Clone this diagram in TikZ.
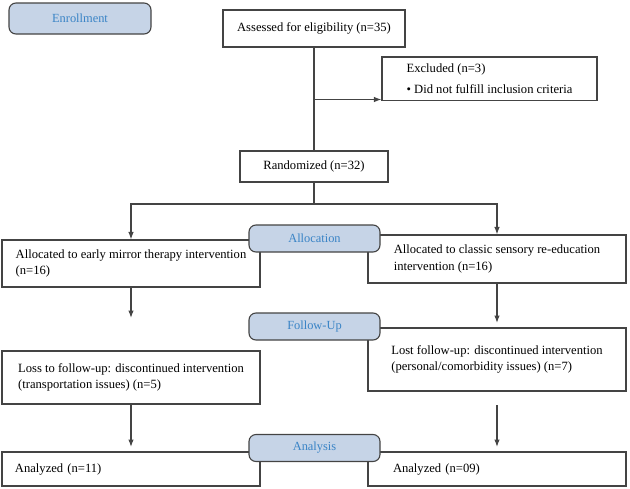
\documentclass[tikz,border=0pt]{standalone}
\usepackage{fontspec}
\setmainfont{Liberation Serif}
\usepackage{xcolor}
\usepackage{tikz}
\usetikzlibrary{arrows.meta, calc}

\definecolor{tabfill}{HTML}{C6D4E7}
\definecolor{tabtext}{HTML}{3A84C6}
\definecolor{linegray}{HTML}{444444}

\begin{document}
\begin{tikzpicture}[x=1pt, y=-1pt,
    box/.style={rectangle, draw=linegray, fill=white, line width=1.1pt, align=left, inner sep=0pt, font=\fontsize{12.6}{16.5}\selectfont},
    sidebox/.style={box, minimum width=258pt},
    phase/.style={rectangle, draw=linegray, fill=tabfill, rounded corners=7pt, line width=1.1pt, minimum width=131pt, minimum height=27pt, inner sep=0pt, text=tabtext, font=\fontsize{12.4}{14}\selectfont},
    arr/.style={-{Latex[length=7.5pt, width=5.5pt]}, linegray, line width=1.1pt},
    link/.style={linegray, line width=1.1pt},
]
\useasboundingbox (0,0) rectangle (630,488);

% Enrollment
\node[phase, minimum width=142pt, minimum height=31pt] (enroll) at (80,18.5) {Enrollment};
\node[box, align=center, minimum width=182pt, minimum height=37pt] (assess) at (314,28.5) {Assessed for eligibility (n=35)};
\node[box, minimum width=215pt, minimum height=43.5pt] (excl) at (489.5,78.75)
  {Excluded (n=3)\\[4pt]\textbullet\ Did not fulfill inclusion criteria};
\node[box, align=center, minimum width=148pt, minimum height=31pt] (rand) at (314,166.5) {Randomized (n=32)};

% Allocation
\node[sidebox, minimum height=47pt] (allocL) at (131,263.5)
  {Allocated to early mirror therapy intervention\\(n=16)};
\node[sidebox, minimum height=48pt] (allocR) at (497,259)
  {Allocated to classic sensory re-education\\intervention (n=16)};

% Follow-up
\node[sidebox, minimum height=53pt] (lossL) at (131,377.5)
  {Loss to follow-up: discontinued intervention\\(transportation issues) (n=5)};
\node[sidebox, minimum height=63pt] (lossR) at (497,359.5)
  {Lost follow-up: discontinued intervention\\(personal/comorbidity issues) (n=7)};

% Analysis
\node[sidebox, minimum height=34pt, text width=232pt] (analL) at (131,469) {Analyzed (n=11)};
\node[sidebox, minimum height=34pt, text width=208pt] (analR) at (497,469) {Analyzed (n=09)};

% Connectors
\coordinate (exclpt) at (314,99.5);
\coordinate (split) at (314,204);
\coordinate (fuL) at (131,318);
\coordinate (fuR) at (497,323);
\coordinate (anLend) at (131,447);
\coordinate (anRstart) at (497,405);
\coordinate (anRend) at (497,447);

\draw[link] (assess.south) -- (rand.north);
\draw[arr] (exclpt) -- (exclpt -| excl.west);
\draw[link] (rand.south) -- (split);
\draw[arr] (split) -| (allocL.north);
\draw[arr] (split) -| (allocR.north);
\draw[arr] (allocL.south) -- (fuL);
\draw[arr] (allocR.south) -- (fuR);
\draw[arr] (lossL.south) -- (anLend);
\draw[arr] (anRstart) -- (anRend);

% Phase tabs on top of the boxes
\node[phase] (allocTab) at (314.5,238.5) {Allocation};
\node[phase] (followTab) at (314.5,326.5) {Follow-Up};
\node[phase] (analTab) at (314.5,448) {Analysis};

\end{tikzpicture}
\end{document}
